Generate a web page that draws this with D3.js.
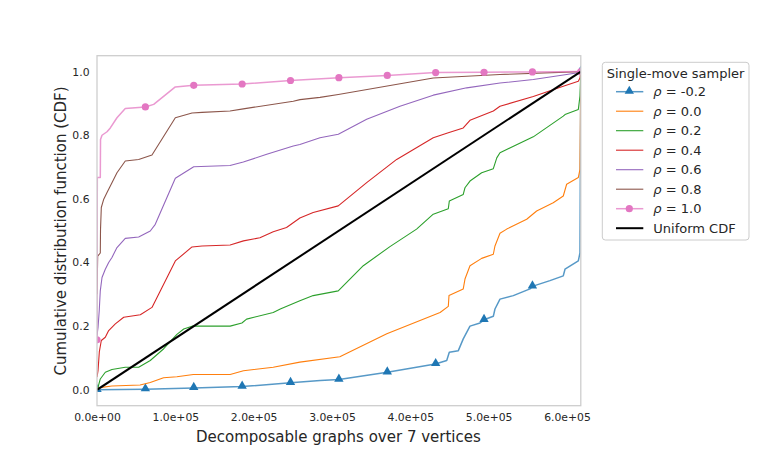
<!DOCTYPE html>
<html>
<head>
<meta charset="utf-8">
<script src="https://cdn.jsdelivr.net/npm/d3@7"></script>
<style>
  body { margin: 0; background: #fff; }
  text { font-family: "DejaVu Sans", sans-serif; fill: #262626; }
</style>
</head>
<body>
<svg id="chart" width="775" height="465"></svg>
<script>
// number of decomposable graphs over 7 vertices (x-axis extent)
var nGraphs = 617675;
var xTicks = [0, 1e5, 2e5, 3e5, 4e5, 5e5, 6e5];
var yTicks = [0, 0.2, 0.4, 0.6, 0.8, 1.0];
var rhoLabels = ["-0.2", "0.0", "0.2", "0.4", "0.6", "0.8", "1.0"];

// CDF curves: [graphs (x 1e5), CDF]
var cdfRhoM02 = [[0,0],[0.62,0.002],[1.235,0.006],[1.85,0.01],[2.47,0.022],[2.85,0.029],[3.09,0.032],
  [3.706,0.055],[4.32,0.081],[4.465,0.092],[4.498,0.118],[4.613,0.123],[4.676,0.16],[4.698,0.17],
  [4.762,0.2],[4.89,0.21],[4.941,0.22],[5.06,0.231],[5.081,0.254],[5.145,0.285],[5.315,0.296],
  [5.528,0.317],[5.557,0.325],[5.783,0.343],[5.953,0.358],[5.975,0.379],[6.145,0.405],[6.166,0.43],[6.17675,1.0]];
var cdfRho00 = [[0,0],[0.013,0.006],[0.19,0.012],[0.55,0.015],[0.68,0.023],[0.85,0.038],[1.02,0.041],
  [1.23,0.048],[1.7,0.048],[1.87,0.06],[2.25,0.071],[2.59,0.087],[3.1,0.104],[3.7,0.176],[4.38,0.243],
  [4.485,0.262],[4.494,0.296],[4.676,0.317],[4.698,0.348],[4.762,0.39],[4.911,0.413],[5.06,0.426],
  [5.081,0.452],[5.145,0.492],[5.231,0.505],[5.486,0.536],[5.613,0.562],[5.825,0.588],[5.953,0.609],
  [5.996,0.646],[6.145,0.667],[6.166,0.693],[6.17675,1.0]];
var cdfRho02 = [[0,0],[0.013,0.008],[0.042,0.034],[0.106,0.055],[0.191,0.064],[0.361,0.071],[0.532,0.071],
  [0.68,0.092],[0.852,0.129],[1.02,0.174],[1.107,0.191],[1.213,0.2],[1.7,0.2],[1.85,0.21],[1.91,0.222],
  [2.25,0.243],[2.34,0.254],[2.59,0.28],[2.76,0.296],[3.08,0.311],[3.4,0.39],[3.74,0.45],[4.08,0.505],
  [4.293,0.552],[4.485,0.569],[4.498,0.593],[4.676,0.614],[4.698,0.635],[4.762,0.656],[4.911,0.682],
  [5.06,0.695],[5.104,0.729],[5.145,0.745],[5.57,0.795],[5.953,0.86],[5.975,0.865],[6.145,0.881],
  [6.166,0.923],[6.17675,1.0]];
var cdfRho04 = [[0,0.04],[0.013,0.06],[0.03,0.12],[0.055,0.155],[0.106,0.165],[0.149,0.186],[0.234,0.207],
  [0.341,0.228],[0.553,0.236],[0.702,0.259],[1.0,0.405],[1.213,0.449],[1.341,0.452],[1.7,0.455],
  [1.87,0.468],[2.08,0.478],[2.25,0.497],[2.42,0.51],[2.59,0.54],[2.76,0.557],[3.08,0.578],[3.443,0.651],
  [3.826,0.724],[4.293,0.792],[4.485,0.808],[4.676,0.823],[4.762,0.847],[5.06,0.876],[5.145,0.891],
  [5.57,0.922],[5.953,0.954],[6.145,0.97],[6.166,0.98],[6.17675,1.0]];
var cdfRho06 = [[0,0.17],[0.013,0.196],[0.029,0.25],[0.042,0.311],[0.064,0.353],[0.106,0.379],[0.149,0.4],
  [0.191,0.416],[0.255,0.447],[0.361,0.476],[0.532,0.48],[0.68,0.499],[0.744,0.52],[1.0,0.665],
  [1.235,0.701],[1.698,0.705],[1.868,0.716],[2.167,0.74],[2.506,0.766],[2.59,0.771],[2.847,0.792],
  [3.081,0.803],[3.443,0.85],[3.868,0.891],[4.293,0.926],[4.72,0.949],[5.145,0.964],[5.57,0.975],
  [5.996,0.991],[6.17675,0.998]];
var cdfRho08 = [[0,0.3],[0.009,0.42],[0.042,0.43],[0.045,0.505],[0.055,0.573],[0.086,0.599],[0.128,0.62],
  [0.191,0.651],[0.255,0.682],[0.361,0.719],[0.532,0.724],[0.702,0.738],[1.0,0.855],[1.213,0.87],
  [1.341,0.872],[1.698,0.876],[1.868,0.883],[2.506,0.907],[2.592,0.912],[2.847,0.919],[3.081,0.928],
  [4.293,0.98],[5.145,0.991],[6.17675,1.0]];
var cdfRho10 = [[0,0.157],[0.004,0.667],[0.042,0.667],[0.045,0.787],[0.064,0.8],[0.128,0.811],[0.17,0.823],
  [0.255,0.855],[0.361,0.884],[0.617,0.889],[0.724,0.897],[1.0,0.952],[1.235,0.957],[1.853,0.961],
  [2.47,0.972],[3.09,0.981],[3.706,0.988],[4.32,0.997],[4.94,0.998],[5.56,0.999],[6.17675,1.0]];
var uniformCdf = [[0,0],[6.17675,1.0]];

var curves = [cdfRhoM02, cdfRho00, cdfRho02, cdfRho04, cdfRho06, cdfRho08, cdfRho10];
var colors = ["#1f77b4", "#ff7f0e", "#2ca02c", "#d62728", "#9467bd", "#8c564b", "#e377c2"];
var markers = ["triangle", null, null, null, null, null, "circle"];

(function() {
    var svg = d3.select("#chart");
    var pLeft = 97, pRight = 580.8, pTop = 55.7, pBottom = 405.7;

    var x = d3.scaleLinear().domain([0, nGraphs]).range([pLeft, pRight]);
    var y = d3.scaleLinear().domain([-0.05, 1.05]).range([pBottom, pTop]);

    function sci(v) {
        var parts = v.toExponential(1).split("e");
        var e = +parts[1];
        return parts[0] + "e" + (e < 0 ? "-" : "+") + String(Math.abs(e)).padStart(2, "0");
    }

    svg.append("clipPath").attr("id", "plotclip")
        .append("rect")
        .attr("x", pLeft).attr("y", pTop)
        .attr("width", pRight - pLeft).attr("height", pBottom - pTop);

    var xAxis = svg.append("g")
        .attr("transform", "translate(0," + pBottom + ")")
        .call(d3.axisBottom(x).tickValues(xTicks).tickFormat(sci).tickSize(0).tickPadding(8));
    var yAxis = svg.append("g")
        .attr("transform", "translate(" + pLeft + ",0)")
        .call(d3.axisLeft(y).tickValues(yTicks).tickFormat(d3.format(".1f")).tickSize(0).tickPadding(7.5));
    [xAxis, yAxis].forEach(function(a) {
        a.select(".domain").remove();
        a.attr("font-family", null).attr("font-size", null);
        a.selectAll("text").style("font-size", "10.8px").attr("fill", "#262626");
    });

    var plot = svg.append("g").attr("clip-path", "url(#plotclip)");

    var line = d3.line()
        .x(function(d) { return x(d[0] * 1e5); })
        .y(function(d) { return y(d[1]); });

    // CDF value of a curve at a given x (for marker placement)
    function valueAt(curve, gx) {
        var xs = curve.map(function(d) { return d[0] * 1e5; });
        var i = d3.bisectLeft(xs, gx);
        if (i <= 0) return curve[0][1];
        if (i >= xs.length) return curve[curve.length - 1][1];
        var t = (gx - xs[i - 1]) / (xs[i] - xs[i - 1] || 1);
        return curve[i - 1][1] + t * (curve[i][1] - curve[i - 1][1]);
    }

    var triangle = d3.symbol().type(d3.symbolTriangle).size(38);

    curves.forEach(function(curve, i) {
        var marked = markers[i] !== null;
        plot.append("path")
            .datum(curve)
            .attr("d", line)
            .attr("fill", "none")
            .attr("stroke", colors[i])
            .attr("stroke-opacity", marked ? 0.75 : 1)
            .attr("stroke-width", marked ? 1.5 : 1.1)
            .attr("stroke-linejoin", "round");

        if (marked) {
            var pts = d3.range(11).map(function(k) {
                var gx = (k === 10) ? nGraphs : k * nGraphs / 10;
                return [gx, valueAt(curve, gx)];
            });
            var g = plot.append("g").attr("fill", colors[i]);
            if (markers[i] === "circle") {
                g.selectAll("circle").data(pts).enter().append("circle")
                    .attr("cx", function(d) { return x(d[0]); })
                    .attr("cy", function(d) { return y(d[1]); })
                    .attr("r", 3.6);
            } else {
                g.selectAll("path").data(pts).enter().append("path")
                    .attr("d", triangle)
                    .attr("transform", function(d) {
                        return "translate(" + x(d[0]) + "," + (y(d[1]) - 0.6) + ")";
                    });
            }
        }
    });

    plot.append("path")
        .datum(uniformCdf)
        .attr("d", line)
        .attr("fill", "none")
        .attr("stroke", "#000")
        .attr("stroke-width", 2);

    // spines
    svg.append("rect")
        .attr("x", pLeft).attr("y", pTop)
        .attr("width", pRight - pLeft).attr("height", pBottom - pTop)
        .attr("fill", "none").attr("stroke", "#cccccc").attr("stroke-width", 1.25);

    svg.append("text")
        .attr("x", (pLeft + pRight) / 2 - 0.5).attr("y", 441.5)
        .attr("text-anchor", "middle").style("font-size", "15px")
        .text("Decomposable graphs over 7 vertices");

    svg.append("text")
        .attr("transform", "translate(66,231) rotate(-90)")
        .attr("text-anchor", "middle").style("font-size", "15px")
        .text("Cumulative distribution function (CDF)");

    // legend
    var leg = svg.append("g").attr("transform", "translate(602.3,62.3)");
    leg.append("rect")
        .attr("width", 146.7).attr("height", 177.7).attr("rx", 3)
        .attr("fill", "#fff").attr("fill-opacity", 0.8)
        .attr("stroke", "#cccccc").attr("stroke-width", 1);
    leg.append("text")
        .attr("x", 73.3).attr("y", 11).attr("dy", "0.35em")
        .attr("text-anchor", "middle").style("font-size", "13px")
        .text("Single-move sampler");

    var entries = rhoLabels.map(function(r, i) {
        return { rho: r, color: colors[i], marker: markers[i],
                 width: markers[i] ? 1.5 : 1.1, opacity: markers[i] ? 0.75 : 1 };
    });
    entries.push({ rho: null, color: "#000", marker: null, width: 2, opacity: 1 });

    entries.forEach(function(e, i) {
        var cy = 29.4 + i * 19.5;
        var row = leg.append("g").attr("transform", "translate(0," + cy + ")");
        row.append("line")
            .attr("x1", 13.7).attr("x2", 41)
            .attr("stroke", e.color).attr("stroke-width", e.width).attr("stroke-opacity", e.opacity);
        if (e.marker === "circle") {
            row.append("circle").attr("cx", 27).attr("r", 3.6).attr("fill", e.color);
        } else if (e.marker === "triangle") {
            row.append("path").attr("d", triangle).attr("transform", "translate(27,-0.6)").attr("fill", e.color);
        }
        var t = row.append("text").attr("x", 51).attr("dy", "0.35em").style("font-size", "13px");
        if (e.rho === null) {
            t.text("Uniform CDF");
        } else {
            t.append("tspan").attr("font-style", "italic").text("\u03c1");
            t.append("tspan").text(" = " + e.rho);
        }
    });
})();
</script>
</body>
</html>
